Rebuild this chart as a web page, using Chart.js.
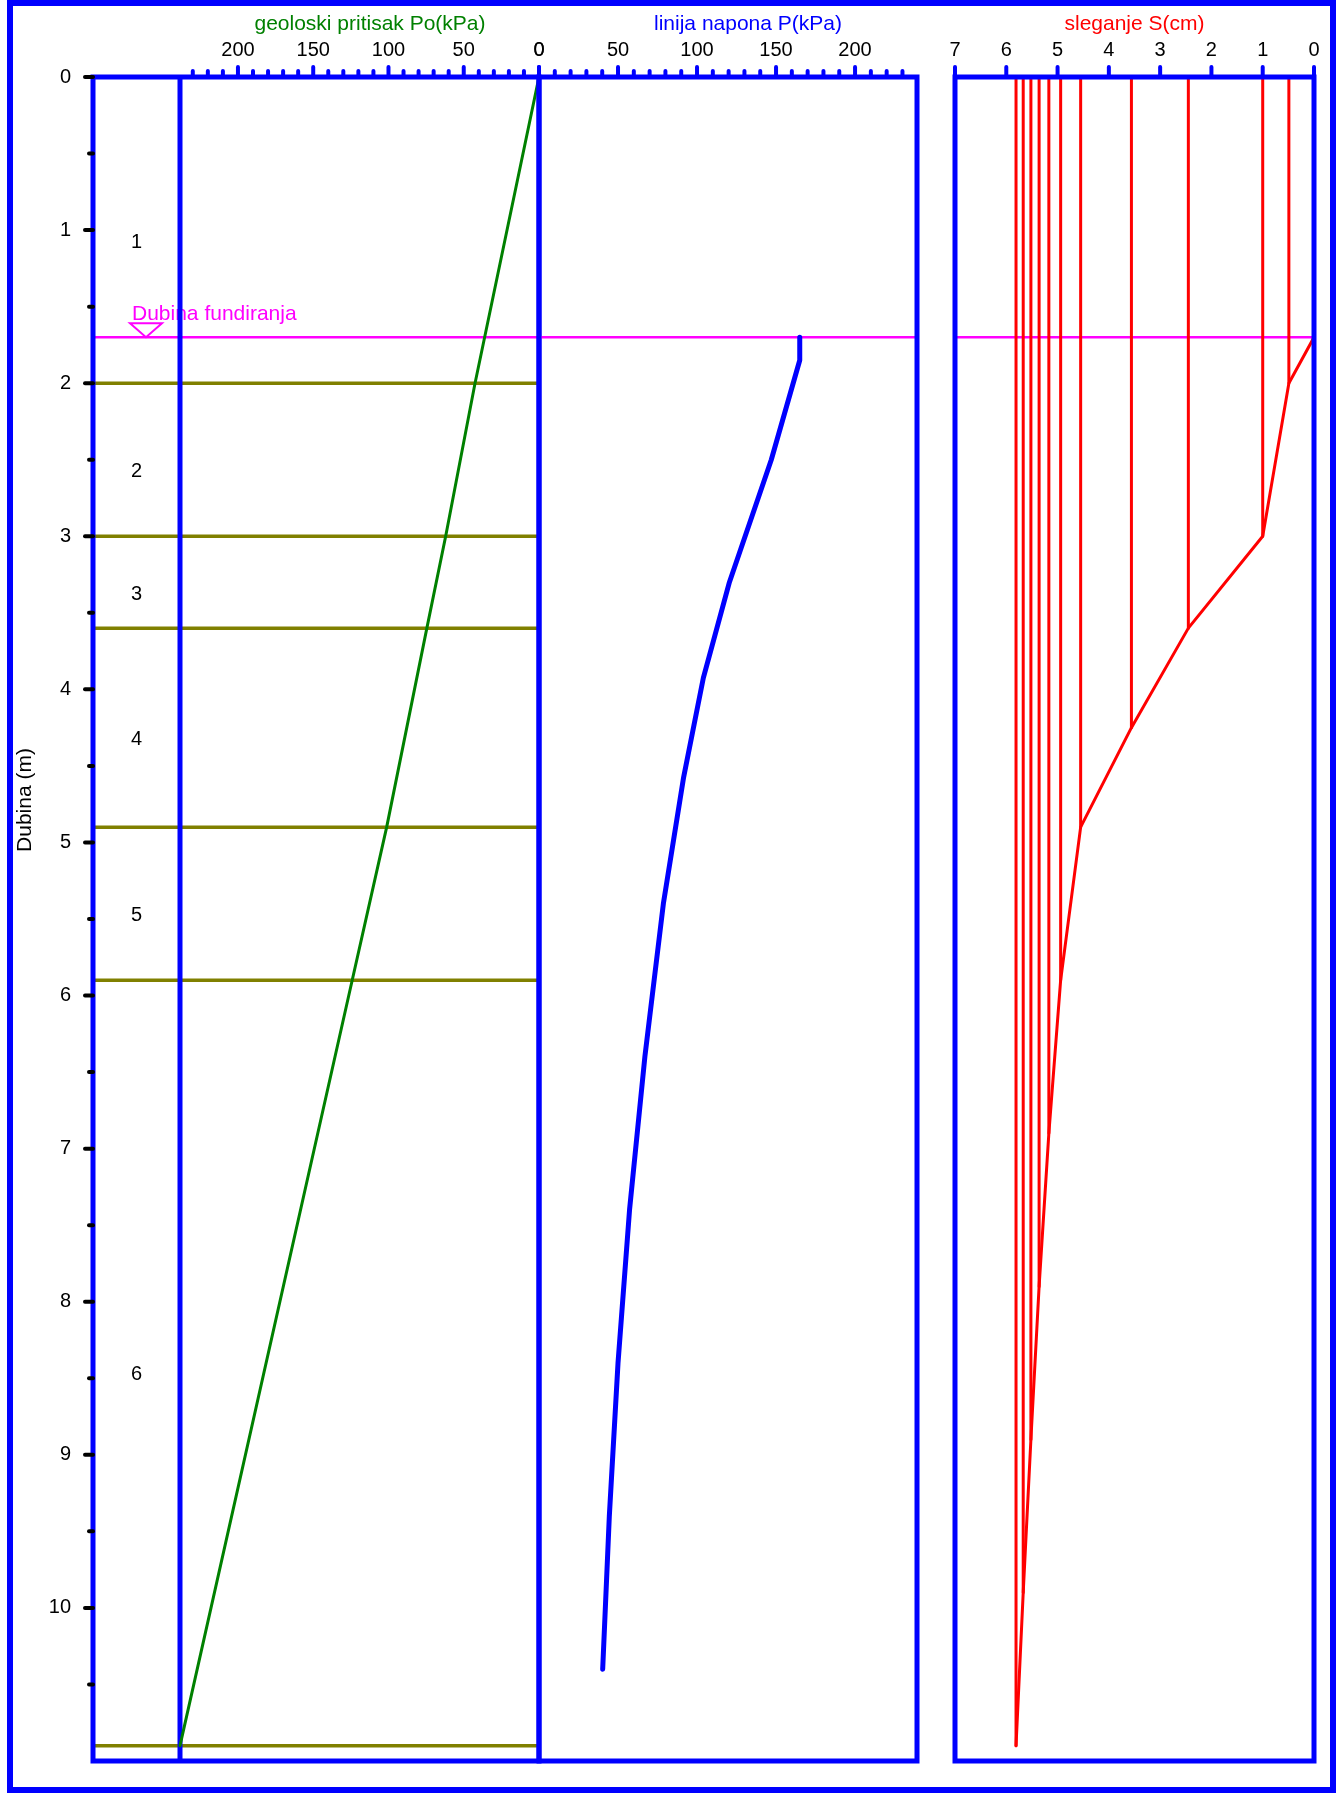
<!DOCTYPE html>
<html lang="sr">
<head>
<meta charset="utf-8">
<title>Sleganje temelja</title>
<script src="https://cdn.jsdelivr.net/npm/chart.js@4.4.1/dist/chart.umd.min.js"></script>
<style>
  html, body { margin: 0; padding: 0; background: #fff; }
  #page { position: relative; width: 1344px; height: 1793px; overflow: hidden; }
  .layer { position: absolute; left: 0; top: 0; width: 1344px; height: 1793px; }
  #border {
    position: absolute; left: 7px; top: 0; width: 1329px; height: 1793px;
    box-sizing: border-box; border: 6px solid #0000ff; pointer-events: none;
  }
</style>
</head>
<body>
<div id="page">
  <div class="layer"><canvas id="poChart"></canvas></div>
  <div class="layer"><canvas id="pChart"></canvas></div>
  <div class="layer"><canvas id="sChart"></canvas></div>
  <div id="border"></div>
</div>
<script>
// slojevi tla (dno sloja, m)
const DEPTH_MAX = 11;
const LAYER_BOTTOMS = [2.0, 3.0, 3.6, 4.9, 5.9, 10.9];
const LAYER_NAMES = ['1', '2', '3', '4', '5', '6'];
const FOUNDATION_DEPTH = 1.7;

// geoloski pritisak Po (kPa)
const PO_DEPTH = [0, 2.0, 3.0, 3.6, 4.9, 5.9, 10.9];
const PO_VALUES = [0, 42.5, 62.0, 74.5, 101.2, 124.1, 238.5];

// napon od temelja P (kPa) u sredinama podslojeva
const P_DEPTH = [1.7, 1.85, 2.5, 3.3, 3.925, 4.575, 5.4, 6.4, 7.4, 8.4, 9.4, 10.4];
const P_VALUES = [165, 165, 147, 120.5, 104, 91.5, 78.7, 67.0, 57.3, 50.0, 44.5, 40.3];

// kumulativno sleganje S (cm) na dnu podslojeva
const S_DEPTH = [1.7, 2.0, 3.0, 3.6, 4.25, 4.9, 5.9, 6.9, 7.9, 8.9, 9.9, 10.9];
const S_VALUES = [0, 0.49, 1.00, 2.45, 3.56, 4.55, 4.94, 5.17, 5.36, 5.52, 5.67, 5.81];

// podeoci
const DEPTH_TICKS = [0, 1, 2, 3, 4, 5, 6, 7, 8, 9, 10];
const DEPTH_MINOR = [0.5, 1.5, 2.5, 3.5, 4.5, 5.5, 6.5, 7.5, 8.5, 9.5, 10.5];
const PO_TICKS = [0, 50, 100, 150, 200];
const P_TICKS = [0, 50, 100, 150, 200];
const KPA_MINOR = [10, 20, 30, 40, 60, 70, 80, 90, 110, 120, 130, 140, 160, 170, 180, 190, 210, 220, 230];
const S_TICKS = [0, 1, 2, 3, 4, 5, 6, 7];

const PO_AXIS_MAX = 296.3;
const P_AXIS_MAX = 239.2;
const S_AXIS_MAX = 7;

// raspored panela na strani (px)
const PAGE_W = 1344, PAGE_H = 1793;
const AREA_TOP = 77, AREA_BOTTOM = 1761;
const DEPTH_AXIS_X = 93, PO_ZERO_X = 539, P_RIGHT_X = 917, S_LEFT_X = 955, S_RIGHT_X = 1314;

const BLUE = '#0000ff', GREEN = '#008000', OLIVE = '#808000', MAGENTA = '#ff00ff', RED = '#ff0000';
const FONT = '"Liberation Sans", Arial, Helvetica, sans-serif';

Chart.defaults.font.family = FONT;
Chart.defaults.font.size = 20;
Chart.defaults.color = '#000';
Chart.defaults.animation = false;

const pts = (xs, ys) => xs.map((x, i) => ({ x, y: ys[i] }));

function lineSet(data, color, width) {
  return {
    data, borderColor: color, borderWidth: width,
    pointRadius: 0, pointHoverRadius: 0, fill: false, tension: 0,
    borderCapStyle: 'round', borderJoinStyle: 'round'
  };
}

function depthScale(show) {
  const s = { type: 'linear', display: show, position: 'left', reverse: true, min: 0, max: DEPTH_MAX };
  if (show) {
    Object.assign(s, {
      afterFit: sc => { sc.width = DEPTH_AXIS_X; },
      afterBuildTicks: sc => { sc.ticks = DEPTH_TICKS.map(value => ({ value })); },
      grid: { drawOnChartArea: false, tickLength: 10, tickColor: 'transparent' },
      border: { display: false },
      ticks: { padding: 12, autoSkip: false, color: '#000' }
    });
  }
  return s;
}

function topScale(max, ticks, reverse) {
  return {
    type: 'linear', position: 'top', min: 0, max, reverse,
    afterFit: sc => { sc.height = AREA_TOP; },
    afterBuildTicks: sc => { sc.ticks = ticks.map(value => ({ value })); },
    grid: { drawOnChartArea: false, tickLength: 12, tickColor: 'transparent' },
    border: { display: false },
    ticks: { padding: 3, autoSkip: false, maxRotation: 0, color: '#000' }
  };
}

const framePlugin = {
  id: 'panelFrame',
  afterDatasetsDraw(chart) {
    const { ctx, chartArea: a } = chart;
    ctx.save();
    ctx.strokeStyle = BLUE;
    ctx.lineWidth = 5;
    ctx.strokeRect(a.left, a.top, a.right - a.left, a.bottom - a.top);
    ctx.restore();
  }
};

const foundationPlugin = {
  id: 'foundationLine',
  beforeDatasetsDraw(chart) {
    const { ctx, chartArea: a, scales: { y } } = chart;
    const py = y.getPixelForValue(FOUNDATION_DEPTH);
    ctx.save();
    ctx.strokeStyle = MAGENTA;
    ctx.lineWidth = 2.5;
    ctx.beginPath();
    ctx.moveTo(a.left, py);
    ctx.lineTo(a.right, py);
    ctx.stroke();
    ctx.restore();
  }
};

// kratke crte podeoka, crtaju se preko okvira
function tickPlugin(specs) {
  return {
    id: 'tickMarks',
    afterDraw(chart) {
      const { ctx, chartArea: a } = chart;
      ctx.save();
      ctx.lineCap = 'round';
      ctx.lineWidth = 4;
      specs.forEach(sp => {
        const scale = chart.scales[sp.axis];
        ctx.strokeStyle = sp.color;
        [[sp.major, sp.majorLen], [sp.minor || [], sp.minorLen]].forEach(([vals, len]) => {
          vals.forEach(v => {
            const p = scale.getPixelForValue(v);
            ctx.beginPath();
            if (scale.isHorizontal()) {
              ctx.moveTo(p, a.top - len + 2);
              ctx.lineTo(p, a.top);
            } else {
              ctx.moveTo(a.left - len + 2, p);
              ctx.lineTo(a.left, p);
            }
            ctx.stroke();
          });
        });
      });
      ctx.restore();
    }
  };
}

function titlePlugin(text, color, centerX) {
  return {
    id: 'axisTitle',
    afterDraw(chart) {
      const { ctx, chartArea: a } = chart;
      ctx.save();
      ctx.font = '21px ' + FONT;
      ctx.fillStyle = color;
      ctx.textAlign = 'center';
      ctx.textBaseline = 'alphabetic';
      ctx.fillText(text, centerX != null ? centerX : (a.left + a.right) / 2, 30);
      ctx.restore();
    }
  };
}

const layersPlugin = {
  id: 'soilLayers',
  beforeDatasetsDraw(chart) {
    const { ctx, chartArea: a, scales: { x, y } } = chart;
    ctx.save();
    ctx.strokeStyle = OLIVE;
    ctx.lineWidth = 3.5;
    LAYER_BOTTOMS.forEach(d => {
      const py = y.getPixelForValue(d);
      ctx.beginPath();
      ctx.moveTo(a.left, py);
      ctx.lineTo(a.right, py);
      ctx.stroke();
    });

    // oznaka dubine fundiranja
    const fy = y.getPixelForValue(FOUNDATION_DEPTH);
    const mx = a.left + 53;
    ctx.strokeStyle = MAGENTA;
    ctx.lineWidth = 2;
    ctx.beginPath();
    ctx.moveTo(mx - 16, fy - 14);
    ctx.lineTo(mx + 16, fy - 14);
    ctx.lineTo(mx, fy);
    ctx.closePath();
    ctx.stroke();
    ctx.fillStyle = MAGENTA;
    ctx.font = '21px ' + FONT;
    ctx.textAlign = 'left';
    ctx.textBaseline = 'alphabetic';
    ctx.fillText('Dubina fundiranja', mx - 14, fy - 17);

    // brojevi slojeva
    const cx = (a.left + x.getPixelForValue(PO_VALUES[PO_VALUES.length - 1])) / 2;
    ctx.fillStyle = '#000';
    ctx.font = '20px ' + FONT;
    ctx.textAlign = 'center';
    ctx.textBaseline = 'middle';
    LAYER_NAMES.forEach((name, i) => {
      const top = i === 0 ? 0 : LAYER_BOTTOMS[i - 1];
      const mid = (top + LAYER_BOTTOMS[i]) / 2;
      ctx.fillText(name, cx, y.getPixelForValue(mid) + 12);
    });
    ctx.restore();
  },
  afterDraw(chart) {
    const { ctx } = chart;
    ctx.save();
    ctx.translate(30.5, 800);
    ctx.rotate(-Math.PI / 2);
    ctx.font = '21px ' + FONT;
    ctx.fillStyle = '#000';
    ctx.textAlign = 'center';
    ctx.textBaseline = 'alphabetic';
    ctx.fillText('Dubina (m)', 0, 0);
    ctx.restore();
  }
};

const baseOptions = (padding) => ({
  responsive: true,
  maintainAspectRatio: false,
  events: [],
  layout: { padding },
  plugins: { legend: { display: false }, tooltip: { enabled: false } }
});

// geoloski pritisak
const poMax = PO_VALUES[PO_VALUES.length - 1];
new Chart(document.getElementById('poChart'), {
  type: 'line',
  data: {
    datasets: [
      lineSet(pts(PO_VALUES, PO_DEPTH), GREEN, 3),
      lineSet([{ x: poMax, y: 0 }, { x: poMax, y: DEPTH_MAX }], BLUE, 5)
    ]
  },
  options: Object.assign(baseOptions({ left: 0, top: 0, right: PAGE_W - PO_ZERO_X, bottom: PAGE_H - AREA_BOTTOM }), {
    scales: { x: topScale(PO_AXIS_MAX, PO_TICKS, true), y: depthScale(true) }
  }),
  plugins: [
    layersPlugin, foundationPlugin, framePlugin,
    tickPlugin([
      { axis: 'x', color: BLUE, major: PO_TICKS, majorLen: 12, minor: KPA_MINOR, minorLen: 8 },
      { axis: 'y', color: '#000', major: DEPTH_TICKS, majorLen: 10, minor: DEPTH_MINOR, minorLen: 6 }
    ]),
    titlePlugin('geoloski pritisak Po(kPa)', GREEN, 370)
  ]
});

// linija napona
new Chart(document.getElementById('pChart'), {
  type: 'line',
  data: { datasets: [lineSet(pts(P_VALUES, P_DEPTH), BLUE, 5)] },
  options: Object.assign(baseOptions({ left: PO_ZERO_X, top: 0, right: PAGE_W - P_RIGHT_X, bottom: PAGE_H - AREA_BOTTOM }), {
    scales: { x: topScale(P_AXIS_MAX, P_TICKS, false), y: depthScale(false) }
  }),
  plugins: [
    foundationPlugin, framePlugin,
    tickPlugin([{ axis: 'x', color: BLUE, major: P_TICKS, majorLen: 12, minor: KPA_MINOR, minorLen: 8 }]),
    titlePlugin('linija napona P(kPa)', BLUE, 748)
  ]
});

// sleganje: kriva po dubini i vertikale od povrsine do dna svakog podsloja
const sVerticals = S_VALUES.slice(1).map((s, i) =>
  lineSet([{ x: s, y: 0 }, { x: s, y: S_DEPTH[i + 1] }], RED, 3));
new Chart(document.getElementById('sChart'), {
  type: 'line',
  data: { datasets: [lineSet(pts(S_VALUES, S_DEPTH), RED, 3)].concat(sVerticals) },
  options: Object.assign(baseOptions({ left: S_LEFT_X, top: 0, right: PAGE_W - S_RIGHT_X, bottom: PAGE_H - AREA_BOTTOM }), {
    scales: { x: topScale(S_AXIS_MAX, S_TICKS, true), y: depthScale(false) }
  }),
  plugins: [
    foundationPlugin, framePlugin,
    tickPlugin([{ axis: 'x', color: BLUE, major: S_TICKS, majorLen: 12 }]),
    titlePlugin('sleganje S(cm)', RED)
  ]
});
</script>
</body>
</html>
